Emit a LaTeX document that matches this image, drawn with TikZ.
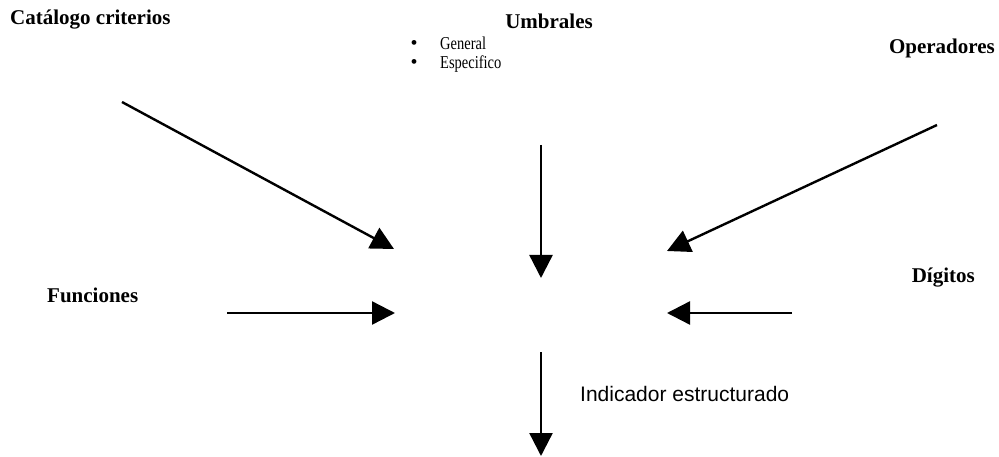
\documentclass[tikz,border=0pt]{standalone}
\usepackage{fontspec}
\setmainfont{Liberation Serif}
\newfontfamily\labelsans{Liberation Sans}
\usetikzlibrary{arrows.meta}

\newcommand{\tallitem}[1]{\scalebox{1}[1.25]{#1}}

\tikzset{
  source/.style={font=\fontsize{21}{24}\selectfont\bfseries, inner sep=0pt},
  item/.style={font=\fontsize{14.5}{17}\selectfont, inner sep=0pt, anchor=base west},
  dot/.style={font=\fontsize{20}{22}\selectfont, inner sep=0pt},
  result/.style={font=\fontsize{21}{25}\selectfont\labelsans, inner sep=0pt, anchor=base west},
  flow/.style={line width=2.4pt, -{Triangle[length=23pt,width=23pt]}}
}

\begin{document}
\begin{tikzpicture}[x=1pt,y=-1pt]
  \useasboundingbox (0,0) rectangle (999,457);

  % input labels
  \node[source, anchor=base west] (catalogo) at (10,25) {Catálogo criterios};
  \node[source, anchor=base] (umbrales) at (549,29) {Umbrales};
  \node[item] (general) at (440,50) {\tallitem{General}};
  \node[item] (especifico) at (440,69) {\tallitem{Especifico}};
  \node[dot] (b1) at (414,45) {\textbullet};
  \node[dot] (b2) at (414,64) {\textbullet};
  \node[source, anchor=base east] (operadores) at (995,54) {Operadores};
  \node[source, anchor=base west] (funciones) at (47,302) {Funciones};
  \node[source, anchor=base east] (digitos) at (975,283) {Dígitos};
  \node[result] (indicador) at (580,401) {Indicador estructurado};

  % arrow end points
  \coordinate (catS) at (122,102);
  \coordinate (catE) at (394,249);
  \coordinate (umbS) at (541,145);
  \coordinate (umbE) at (541,278);
  \coordinate (opS) at (937,125);
  \coordinate (opE) at (667,251);
  \coordinate (funS) at (227,313);
  \coordinate (funE) at (395,313);
  \coordinate (digS) at (792,313);
  \coordinate (digE) at (667,313);
  \coordinate (outS) at (541,352);
  \coordinate (outE) at (541,456);

  % arrows into and out of the centre
  \draw[flow] (catS) -- (catE);
  \draw[flow] (umbS) -- (umbE);
  \draw[flow] (opS) -- (opE);
  \draw[flow] (funS) -- (funE);
  \draw[flow] (digS) -- (digE);
  \draw[flow] (outS) -- (outE);
\end{tikzpicture}
\end{document}
